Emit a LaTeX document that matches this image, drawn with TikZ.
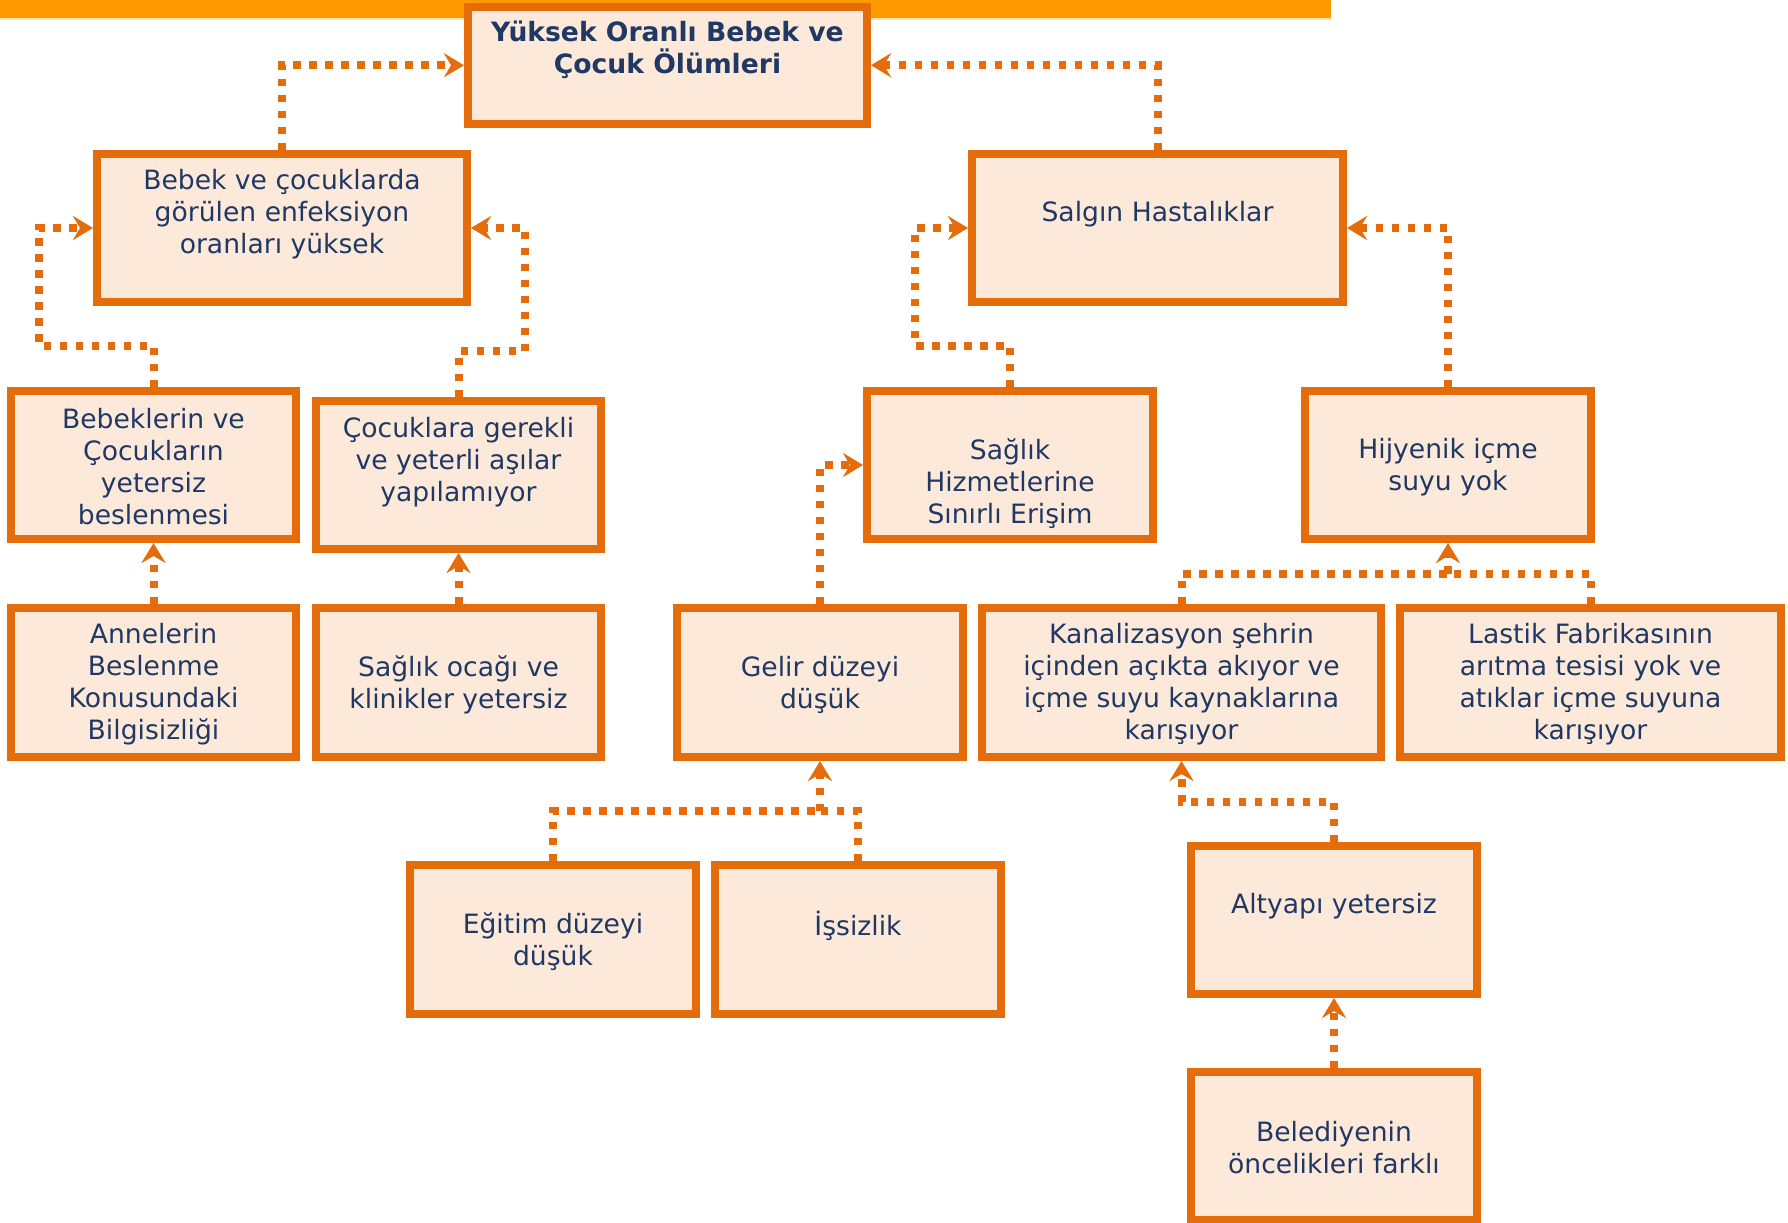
\documentclass[tikz,border=0pt]{standalone}
\usepackage{fontspec}
\setmainfont{DejaVu Sans}
\usetikzlibrary{arrows.meta}

\definecolor{boxfill}{HTML}{FDE9D9}
\definecolor{boxline}{HTML}{E46C0A}
\definecolor{inktext}{HTML}{1F3864}
\definecolor{barorange}{HTML}{FF9900}
\definecolor{barshade}{HTML}{FFE5A8}

\tikzset{
  cause/.style={draw=boxline, fill=boxfill, line width=4pt, rectangle,
    minimum width=143pt, minimum height=74pt, inner sep=0pt},
  caption/.style={text=inktext, align=center, inner sep=0pt,
    font=\fontsize{13.3pt}{16pt}\selectfont},
  link/.style={draw=boxline, line width=4pt, dash pattern=on 3.75pt off 4.25pt},
  conn/.style={link, -{Stealth[length=10pt, width=12pt, inset=3.5pt]}},
}

\begin{document}
\begin{tikzpicture}[x=0.5pt, y=-0.5pt]
\useasboundingbox (0,0) rectangle (1788,1222);
\fill[white] (0,0) rectangle (1788,1222);

% title bar
\fill[barorange] (0,0) rectangle (1331,18);
\fill[barshade] (0,18) rectangle (1331,19.5);

% boxes
\node[cause, minimum width=199.5pt, minimum height=58.75pt] (A) at (667.5,65.25) {};
\node[cause, minimum width=185pt] (B) at (282,228) {};
\node[cause, minimum width=185.5pt] (C) at (1157.5,228) {};
\node[cause, minimum width=142.5pt] (D) at (153.5,465) {};
\node[cause, minimum width=142.5pt] (E) at (458.5,475) {};
\node[cause] (F) at (1010,465) {};
\node[cause] (G) at (1448,465) {};
\node[cause, minimum width=142.5pt, minimum height=74.5pt] (H) at (153.5,682.5) {};
\node[cause, minimum width=142.5pt, minimum height=74.5pt] (I) at (458.5,682.5) {};
\node[cause, minimum height=74.5pt] (J) at (820,682.5) {};
\node[cause, minimum width=199.5pt, minimum height=74.5pt] (K) at (1181.5,682.5) {};
\node[cause, minimum width=190.5pt, minimum height=74.5pt] (L) at (1590.5,682.5) {};
\node[cause, minimum height=74.5pt] (M) at (553,939.5) {};
\node[cause, minimum height=74.5pt] (N) at (858,939.5) {};
\node[cause] (O) at (1334,920) {};
\node[cause] (P) at (1334,1146) {};

% texts
\node[caption, font=\fontsize{13.3pt}{16pt}\selectfont\bfseries] (tA) at ([yshift=7.5pt]A.center) {Yüksek Oranlı Bebek ve\\Çocuk Ölümleri};
\node[caption] (tB) at ([yshift=6.8pt]B.center) {Bebek ve çocuklarda\\görülen enfeksiyon\\oranları yüksek};
\node[caption] (tC) at ([yshift=6.8pt]C.center) {Salgın Hastalıklar};
\node[caption] (tD) at ([yshift=-1pt]D.center) {Bebeklerin ve\\Çocukların\\yetersiz\\beslenmesi};
\node[caption] (tE) at ([yshift=6.5pt]E.center) {Çocuklara gerekli\\ve yeterli aşılar\\yapılamıyor};
\node[caption] (tF) at ([yshift=-9.5pt]F.center) {Sağlık\\Hizmetlerine\\Sınırlı Erişim};
\node[caption] (tG) at ([yshift=-1pt]G.center) {Hijyenik içme\\suyu yok};
\node[caption] (tH) at ([yshift=-1pt]H.center) {Annelerin\\Beslenme\\Konusundaki\\Bilgisizliği};
\node[caption] (tI) at ([yshift=-1pt]I.center) {Sağlık ocağı ve\\klinikler yetersiz};
\node[caption] (tJ) at ([yshift=-1pt]J.center) {Gelir düzeyi\\düşük};
\node[caption] (tK) at ([yshift=-1pt]K.center) {Kanalizasyon şehrin\\içinden açıkta akıyor ve\\içme suyu kaynaklarına\\karışıyor};
\node[caption] (tL) at ([yshift=-1pt]L.center) {Lastik Fabrikasının\\arıtma tesisi yok ve\\atıklar içme suyuna\\karışıyor};
\node[caption] (tM) at ([yshift=-1pt]M.center) {Eğitim düzeyi\\düşük};
\node[caption] (tN) at ([yshift=6.8pt]N.center) {İşsizlik};
\node[caption] (tO) at ([yshift=6.8pt]O.center) {Altyapı yetersiz};
\node[caption] (tP) at ([yshift=-1pt]P.center) {Belediyenin\\öncelikleri farklı};

% junction points where two causes merge
\coordinate (jG) at ([yshift=-15.25pt]G.south);
\coordinate (jJ) at ([yshift=-25pt]J.south);

% connectors
\draw[conn] (B.north) |- (A.west);
\draw[conn] (C.north) |- (A.east);
\draw[conn] (D.north) -- ++(0,-41.5) -- ++(-114.7,0) |- (B.west);
\draw[conn] (E.north) -- ++(0,-46) -- ++(66,0) |- (B.east);
\draw[conn] (H.north) -- (D.south);
\draw[conn] (I.north) -- (E.south);
\draw[conn] (F.north) -- ++(0,-41.5) -- ++(-95,0) |- (C.west);
\draw[conn] (G.north) |- (C.east);
\draw[conn] (J.north) |- (F.west);
\draw[link] (K.north) |- (jG);
\draw[link] (L.north) |- (jG);
\draw[conn] (jG) -- (G.south);
\draw[link] (M.north) |- (jJ);
\draw[link] (N.north) |- (jJ);
\draw[conn] (jJ) -- (J.south);
\draw[conn] (O.north) -- ++(0,-40.4) -| (K.south);
\draw[conn] (P.north) -- (O.south);
\end{tikzpicture}
\end{document}
